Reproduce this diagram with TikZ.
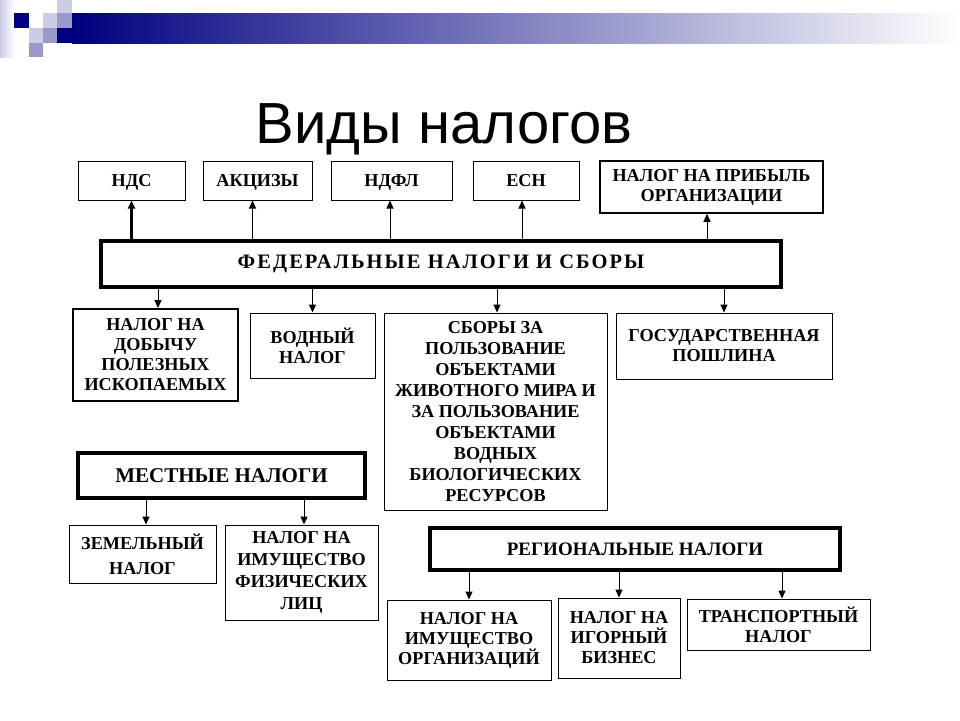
\documentclass[tikz,border=0pt]{standalone}
\usepackage{fontspec}
\setmainfont{Liberation Serif}
\newfontfamily\titlefont{Liberation Sans}
\usetikzlibrary{arrows.meta,calc}
\definecolor{navy}{RGB}{0,0,128}
\definecolor{midlav}{RGB}{153,153,204}
\definecolor{litlav}{RGB}{204,204,230}
\begin{document}
\begin{tikzpicture}[x=1pt,y=-1pt,
  tbox/.style={draw, line width=1pt, inner sep=0pt, align=center,
    font=\fontsize{18.2}{20}\selectfont\bfseries},
  sline/.style={text height=12.5pt, text depth=0pt},
  barbox/.style={draw, line width=4pt, inner sep=0pt, align=center},
  arr/.style={line width=1pt, -{Triangle[length=8pt,width=7pt]}}
]
\useasboundingbox (0,0) rectangle (960,720);
% decoration
\shade[left color=litlav, right color=white] (0,0) rectangle (14,57);
\fill[navy] (14,13) rectangle (29,28);
\fill[litlav] (29,28) rectangle (43,43);
\fill[midlav] (29,43) rectangle (43,57);
\fill[litlav] (43,13) rectangle (57,28);
\fill[midlav] (43,28) rectangle (57,43);
\fill[litlav] (57,0) rectangle (72,13);
\fill[midlav] (57,13) rectangle (72,28);
\fill[navy] (57,28) rectangle (72,43);
\shade[left color=navy, right color=white] (72,13) rectangle (960,43);
% title
\node[font=\titlefont\fontsize{58}{60}\selectfont, anchor=base] (title) at (444,143) {Виды налогов};
% top row
\node[tbox, sline, minimum width=107, minimum height=39] (nds) at (131.5,180.5) {НДС};
\node[tbox, sline, minimum width=109, minimum height=39] (akc) at (257.5,180.5) {АКЦИЗЫ};
\node[tbox, sline, minimum width=121, minimum height=39] (ndfl) at (391.5,180.5) {НДФЛ};
\node[tbox, sline, minimum width=106, minimum height=39] (esn) at (526,180.5) {ЕСН};
\node[tbox, line width=1.5pt, minimum width=223, minimum height=52] (prib) at (711.5,187) {НАЛОГ НА ПРИБЫЛЬ\\ОРГАНИЗАЦИИ};
% federal
\node[barbox, minimum width=680, minimum height=46,
  font=\fontsize{20.5}{22}\selectfont\bfseries\addfontfeature{LetterSpace=10}] (fed) at (441,264) {ФЕДЕРАЛЬНЫЕ НАЛОГИ И СБОРЫ};
% second row
\node[tbox, line width=2pt, minimum width=165, minimum height=92] (ndpi) at (155.5,355) {НАЛОГ НА\\ДОБЫЧУ\\ПОЛЕЗНЫХ\\ИСКОПАЕМЫХ};
\node[tbox, minimum width=125, minimum height=65] (vod) at (312.5,345.5) {ВОДНЫЙ\\НАЛОГ};
\node[tbox, minimum width=223, minimum height=197, font=\fontsize{18.2}{21}\selectfont\bfseries] (sbor) at (495.5,411.5) {СБОРЫ ЗА\\ПОЛЬЗОВАНИЕ\\ОБЪЕКТАМИ\\ЖИВОТНОГО МИРА И\\ЗА ПОЛЬЗОВАНИЕ\\ОБЪЕКТАМИ\\ВОДНЫХ\\БИОЛОГИЧЕСКИХ\\РЕСУРСОВ};
\node[tbox, minimum width=216, minimum height=66] (gos) at (724,346) {ГОСУДАРСТВЕННАЯ\\ПОШЛИНА};
% local
\node[barbox, minimum width=287, minimum height=45, font=\fontsize{21}{22}\selectfont\bfseries] (mest) at (221.5,475.5) {МЕСТНЫЕ НАЛОГИ};
\node[tbox, minimum width=147, minimum height=58, font=\fontsize{18.2}{25}\selectfont\bfseries] (zem) at (142.5,554) {ЗЕМЕЛЬНЫЙ\\НАЛОГ};
\node[tbox, minimum width=153, minimum height=95, font=\fontsize{18.2}{22}\selectfont\bfseries] (imf) at (301.5,572.5) {НАЛОГ НА\\ИМУЩЕСТВО\\ФИЗИЧЕСКИХ\\ЛИЦ};
% regional
\node[barbox, line width=3.5pt, minimum width=410, minimum height=42, font=\fontsize{19}{20}\selectfont\bfseries] (reg) at (635,549) {РЕГИОНАЛЬНЫЕ НАЛОГИ};
\node[tbox, minimum width=164, minimum height=80] (imo) at (469,640) {НАЛОГ НА\\ИМУЩЕСТВО\\ОРГАНИЗАЦИЙ};
\node[tbox, minimum width=122, minimum height=80] (igor) at (619,638) {НАЛОГ НА\\ИГОРНЫЙ\\БИЗНЕС};
\node[tbox, minimum width=183, minimum height=51] (trans) at (778.5,624.5) {ТРАНСПОРТНЫЙ\\НАЛОГ};
% connectors up
\draw[arr, line width=2.5pt] (fed.north -| nds.south) -- (nds.south);
\draw[arr] ($(fed.north -| akc.south)+(-5,0)$) -- ($(akc.south)+(-5,0)$);
\draw[arr] ($(fed.north -| ndfl.south)+(-1.5,0)$) -- ($(ndfl.south)+(-1.5,0)$);
\draw[arr] ($(fed.north -| esn.south)+(-4,0)$) -- ($(esn.south)+(-4,0)$);
\draw[arr] ($(fed.north -| prib.south)+(-4.5,0)$) -- ($(prib.south)+(-4.5,0)$);
% connectors down
\draw[arr] ($(fed.south -| ndpi.north)+(2.5,0)$) -- ($(ndpi.north)+(2.5,0)$);
\draw[arr] (fed.south -| vod.north) -- (vod.north);
\draw[arr] ($(fed.south -| sbor.north)+(1.5,0)$) -- ($(sbor.north)+(1.5,0)$);
\draw[arr] (fed.south -| gos.north) -- (gos.north);
\draw[arr] ($(mest.south -| zem.north)+(3.5,0)$) -- ($(zem.north)+(3.5,0)$);
\draw[arr] ($(mest.south -| imf.north)+(2.5,0)$) -- ($(imf.north)+(2.5,0)$);
\draw[arr] (reg.south -| imo.north) -- (imo.north);
\draw[arr] (reg.south -| igor.north) -- (igor.north);
\draw[arr] ($(reg.south -| trans.north)+(3.5,0)$) -- ($(trans.north)+(3.5,0)$);
\end{tikzpicture}
\end{document}
